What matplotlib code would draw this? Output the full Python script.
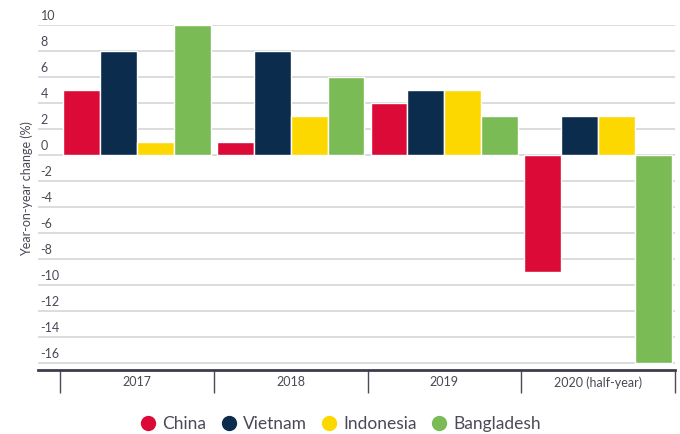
import numpy as np
import matplotlib
matplotlib.use("Agg")
import matplotlib.pyplot as plt
from matplotlib.lines import Line2D
from matplotlib.transforms import blended_transform_factory, offset_copy

plt.rcParams['font.family'] = ['Lato', 'DejaVu Sans']

# data
years = ['2017', '2018', '2019', '2020 (half-year)']
countries = ['China', 'Vietnam', 'Indonesia', 'Bangladesh']
china = [5, 1, 4, -9]
vietnam = [8, 8, 5, 3]
indonesia = [1, 3, 5, 3]
bangladesh = [10, 6, 3, -16]
colors = ['#DC0A36', '#0C2C4E', '#FDD800', '#7ABB56']
yticks = list(range(-16, 11, 2))

text_col = '#4a4a58'

fig = plt.figure(figsize=(6.8, 4.34), dpi=100)
ax = fig.add_axes([38 / 680, 64 / 434, 637 / 680, 345 / 434])

x = np.arange(len(years))
w = 0.24
series = [china, vietnam, indonesia, bangladesh]
for i, (vals, c) in enumerate(zip(series, colors)):
    ax.bar(x + (i - 1.5) * w, vals, width=w, color=c, edgecolor='white',
           linewidth=1, zorder=3, label=countries[i])

ax.set_xlim(-0.5 - 22 / 153.75, 3.5)
ax.set_ylim(-16.54, 10)

# gridlines
for t in yticks:
    ax.axhline(t, color='#d9d9d9', linewidth=1.3, zorder=1)

# y tick labels sit above the gridlines
ax.set_yticks([])
tr = offset_copy(blended_transform_factory(ax.transAxes, ax.transData),
                 fig=fig, x=0, y=2.5, units='dots')
for t in yticks:
    ax.text(0.004, t, str(t), transform=tr, ha='left', va='bottom',
            fontsize=9, color=text_col)

# x axis: boundary ticks, labels at centres
ax.set_xticks(np.arange(-0.5, 4, 1))
ax.set_xticklabels([])
ax.tick_params(axis='x', length=16.5, width=1, color=text_col, direction='out')
for xi, lab in zip(x, years):
    ax.text(xi, -17.0, lab, ha='center', va='top', fontsize=9, color=text_col)

for s in ['top', 'right', 'left']:
    ax.spines[s].set_visible(False)
ax.spines['bottom'].set_color('#3c3c4a')
ax.spines['bottom'].set_linewidth(2)
ax.spines['bottom'].set_zorder(4)

fig.text(27 / 680, 1 - 189 / 434, 'Year-on-year change (%)', rotation=90,
         ha='center', va='center', fontsize=9, color=text_col)

handles = [Line2D([], [], marker='o', linestyle='', markersize=10,
                  markerfacecolor=c, markeredgecolor=c) for c in colors]
fig.legend(handles, countries, loc='center', bbox_to_anchor=(0.5, 1 - 424 / 434),
           ncol=4, frameon=False, fontsize=12.5, handletextpad=0.3,
           columnspacing=0.8, labelcolor=text_col, handlelength=1)

fig.savefig('out.png', dpi=100)
